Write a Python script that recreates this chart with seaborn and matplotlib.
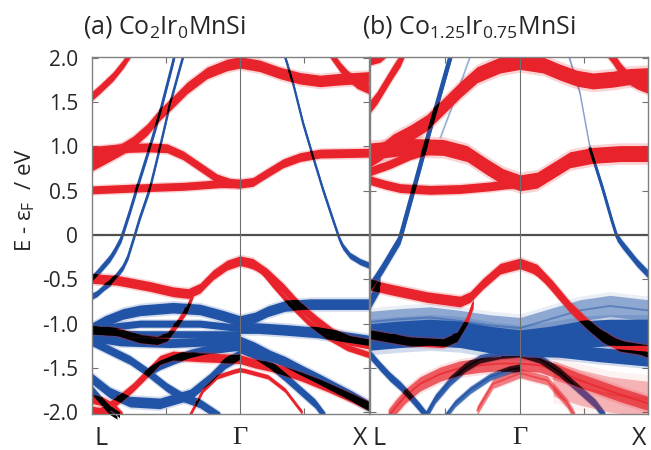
import numpy as np
import matplotlib
matplotlib.use("Agg")
import matplotlib.pyplot as plt
import matplotlib.transforms as mtransforms
import seaborn as sns

# Bloch spectral bands along L - Gamma - X.  k is the path position in
# percent of the L->X segment, E is energy relative to E_F in eV.

# ---------------- (a) Co2Ir0MnSi : majority (red) ----------------
A_R1 = ([0, 2.9, 7.6, 11.2, 14.8, 19.1], [1.57, 1.65, 1.79, 1.93, 2.10, 2.30])
A_R2 = ([0, 5.4, 10.1, 14.8, 19.9, 24.5, 29.2, 34.3, 41.5, 48.7, 53.4, 60.6, 67.9, 75.1, 82.3, 89.5, 100],
        [0.79, 0.88, 0.96, 1.05, 1.19, 1.36, 1.50, 1.66, 1.83, 1.92, 1.95, 1.91, 1.83, 1.77, 1.74, 1.76, 1.78])
A_R3 = ([85.2, 87.0, 89.5, 92.1, 95.7, 100], [2.09, 2.01, 1.90, 1.81, 1.71, 1.65])
A_R4 = ([0, 10.1, 19.9, 27.1, 32.9, 39.0, 45.1, 49.8, 53.4, 58.1, 63.2, 69.0, 75.1, 82.3, 100],
        [0.95, 0.98, 0.99, 0.98, 0.90, 0.77, 0.64, 0.59, 0.58, 0.60, 0.70, 0.81, 0.88, 0.92, 0.93])
A_R5 = ([0, 14.8, 32.9, 46.2, 53.4], [0.51, 0.53, 0.55, 0.58, 0.58])
A_R6 = ([0, 5.4, 10.1], [0.88, 0.94, 0.98])
A_R7 = ([0, 9.0, 20.9, 29.2, 34.7, 39.0, 43.7, 48.7, 53.4, 58.1, 63.2, 69.0, 75.1, 81.2, 87.0, 93.1, 100],
        [-0.49, -0.51, -0.58, -0.64, -0.66, -0.60, -0.45, -0.34, -0.29, -0.32, -0.43, -0.60, -0.81, -0.97, -1.11, -1.19, -1.23])
A_R8 = ([53.4, 60.6, 65.3, 71.5, 77.6, 84.8, 92.1, 100], [-0.29, -0.38, -0.56, -0.78, -0.97, -1.14, -1.27, -1.35])
A_R9 = ([0, 9.0, 17.3, 23.5, 27.1, 30.7, 34.3, 36.5], [-1.07, -1.09, -1.17, -1.19, -1.15, -1.0, -0.83, -0.66])
A_R10 = ([0.4, 4.0, 9.4, 14.8, 20.2, 24.5, 29.2, 39.0, 47.3, 53.4, 58.8, 66.1, 75.8, 85.2, 93.9, 100],
         [-2.03, -1.98, -1.86, -1.72, -1.55, -1.41, -1.36, -1.38, -1.39, -1.40, -1.45, -1.50, -1.60, -1.72, -1.84, -1.93])
A_R11 = ([35.4, 40.1, 45.1, 50.9, 53.4, 55.2, 63.5, 69.7, 75.8], [-2.03, -1.75, -1.60, -1.54, -1.52, -1.53, -1.60, -1.75, -2.0])
A_R12 = ([0, 4, 8, 11], [-1.85, -1.88, -1.95, -2.05])
A_R13 = ([0, 5, 9], [-1.97, -2.0, -2.08])

# ---------------- (a) Co2Ir0MnSi : minority (blue) ----------------
A_B1 = ([0, 1.8, 4.0, 6.5, 8.3, 10.5, 13.7, 16.2, 20.9, 24.5, 29.2, 30.3],
        [-0.49, -0.43, -0.35, -0.26, -0.17, -0.04, 0.27, 0.53, 1.0, 1.38, 1.95, 2.1])
A_B2 = ([0, 1.8, 4.3, 6.5, 9.0, 11.2, 13.0, 14.8, 17.3, 20.9, 24.5, 28.2, 31.8, 33.6],
        [-0.69, -0.66, -0.59, -0.54, -0.45, -0.36, -0.24, -0.06, 0.2, 0.53, 0.99, 1.49, 1.9, 2.1])
A_B3 = ([68.6, 69.7, 72.6, 76.2, 79.8, 83.4, 87.0, 89.5, 90.6, 93.1, 96.8, 100],
        [2.1, 2.01, 1.71, 1.26, 0.88, 0.51, 0.17, -0.06, -0.13, -0.23, -0.30, -0.34])
A_B4 = ([0, 4.7, 11.2, 17.3, 29.2, 39.0, 47.3, 53.4, 58.8, 63.5, 69.7, 78.7, 89.5, 100],
        [-1.05, -0.97, -0.89, -0.85, -0.82, -0.84, -0.91, -0.97, -0.93, -0.86, -0.80, -0.78, -0.78, -0.78])
A_B5 = ([0, 17.3, 39.0, 53.4], [-1.06, -1.0, -1.0, -1.05])
A_B6 = ([0, 17.3, 39.0, 53.4], [-1.10, -1.12, -1.12, -1.12])
A_B7 = ([0, 10.1, 28.2, 42.6, 53.4], [-1.15, -1.2, -1.22, -1.2, -1.2])
A_B8 = ([0, 6.5, 13.7, 20.2, 27.1, 32.9, 39.0, 46.2], [-1.2, -1.3, -1.41, -1.55, -1.72, -1.83, -1.90, -2.05])
A_B9 = ([20.2, 24.5, 30.0, 35.4, 40.8, 48.0, 53.4], [-1.55, -1.47, -1.40, -1.34, -1.30, -1.27, -1.25])
A_B10 = ([0, 6.5, 13.7, 24.5, 35.4, 42.6, 48.0, 53.4], [-1.62, -1.78, -1.88, -1.90, -1.80, -1.62, -1.45, -1.35])
A_B11 = ([0, 6.5, 10.1], [-1.75, -1.98, -2.05])
A_B12 = ([53.4, 59.9, 69.7, 81.6, 91.3, 100], [-1.05, -1.05, -1.07, -1.10, -1.15, -1.19])
A_B13 = ([53.4, 58.8, 64.3, 69.7, 75.8, 81.6, 87.7, 93.9, 100], [-1.2, -1.27, -1.36, -1.43, -1.53, -1.62, -1.72, -1.82, -1.93])
A_B14 = ([53.4, 58.8, 64.3, 69.7, 75.1, 80.5, 84.1], [-1.28, -1.35, -1.46, -1.6, -1.75, -1.9, -2.05])

# ---------------- (b) Co1.25Ir0.75MnSi : majority (red) ----------------
B_R1 = ([0, 2.5, 5.4, 8.3, 10.8, 12.6], [1.45, 1.55, 1.70, 1.85, 1.97, 2.10])
B_R1b = ([0, 3.6, 7.2], [1.97, 2.0, 2.1])
B_R2 = ([0, 3.6, 8.3, 14.4, 20.5, 26.3, 32.4, 38.5, 46.8, 54.0, 62.2, 68.3, 74.5, 80.2, 87.4, 93.5, 100],
        [0.86, 0.93, 1.05, 1.15, 1.27, 1.45, 1.64, 1.81, 1.92, 1.96, 1.92, 1.84, 1.77, 1.74, 1.76, 1.79, 1.80])
B_R3 = ([84.9, 87.4, 89.9, 92.4, 96.0, 100], [2.1, 2.0, 1.88, 1.79, 1.72, 1.67])
B_R4 = ([0, 7.2, 14.4, 26.3, 34.9, 42.1, 47.8, 54.0, 60.1, 65.8, 71.9, 80.2, 89.9, 100],
        [0.95, 0.97, 1.0, 0.99, 0.92, 0.77, 0.66, 0.59, 0.62, 0.73, 0.85, 0.90, 0.92, 0.92])
B_R5 = ([0, 5.4, 10.8, 21.6, 32.4, 43.2, 54.0], [0.62, 0.57, 0.53, 0.51, 0.52, 0.55, 0.59])
B_R6 = ([0, 7.2, 14.4, 21.6], [0.72, 0.80, 0.90, 0.97])
B_R7 = ([0, 8.3, 20.5, 32.4, 36.0, 40.6, 46.8, 54.0, 60.1, 65.8, 71.9, 78.1, 83.8, 89.9, 100],
        [-0.56, -0.62, -0.70, -0.75, -0.70, -0.55, -0.38, -0.32, -0.39, -0.58, -0.81, -1.0, -1.15, -1.25, -1.30])
B_R8 = ([57.6, 62.9, 68.3, 74.5, 80.2, 88.1, 100], [-0.36, -0.50, -0.70, -0.90, -1.05, -1.2, -1.34])
B_R9 = ([0, 14.4, 26.3, 31.3, 34.9, 37.1], [-1.12, -1.2, -1.22, -1.15, -0.96, -0.77])
B_R10 = ([6.5, 9.0, 12.6, 18.0, 25.2, 32.4, 39.6, 46.8, 54.0, 61.2, 68.3, 75.5, 82.7, 89.9, 100],
         [-2.05, -1.95, -1.82, -1.68, -1.57, -1.5, -1.47, -1.45, -1.45, -1.47, -1.55, -1.64, -1.72, -1.8, -1.9])
B_R11 = ([38.5, 44.2, 54.0, 63.7, 70.9, 73.7], [-1.98, -1.68, -1.56, -1.64, -1.9, -2.05])
B_R12 = ([65.8, 75.5, 86.3, 100], [-1.62, -1.72, -1.8, -1.85])

# ---------------- (b) Co1.25Ir0.75MnSi : minority (blue) ----------------
B_B1 = ([0, 1.8, 4.7, 8.3, 10.8, 14.4, 18.0, 21.6, 25.2, 28.8, 29.9],
        [-0.58, -0.5, -0.36, -0.17, -0.04, 0.37, 0.78, 1.2, 1.6, 2.0, 2.12])
B_B2 = ([0, 1.8, 3.6], [-0.75, -0.65, -0.55])
B_B2f = ([25.2, 30.6, 36.3], [1.1, 1.55, 2.05])
B_B3t = ([71.2, 75.5, 79.1], [2.05, 1.6, 0.98])
B_B3 = ([79.1, 83.8, 87.1, 88.8, 90.6, 92.4, 96.0, 100], [0.98, 0.51, 0.15, -0.02, -0.1, -0.17, -0.31, -0.44])
B_BC = ([0, 10.8, 21.6, 32.4, 43.2, 54.0, 64.7, 75.5, 86.3, 100],
        [-1.15, -1.12, -1.1, -1.12, -1.18, -1.22, -1.18, -1.12, -1.1, -1.1])
B_BH = ([0, 10.8, 21.6, 32.4, 43.2, 54.0, 64.7, 75.5, 86.3, 100],
        [-0.98, -0.95, -0.93, -0.97, -1.02, -1.05, -0.95, -0.85, -0.8, -0.85])
B_BL1 = ([0, 3.6, 7.2, 10.8, 14.4, 18.0, 20.5], [-1.35, -1.48, -1.6, -1.7, -1.82, -1.95, -2.05])
B_BL2 = ([19.8, 23.4, 28.8, 34.2, 39.6, 46.8, 54.0], [-2.05, -1.85, -1.65, -1.5, -1.4, -1.35, -1.33])
B_BL3 = ([27.0, 30.6, 36.0, 43.2, 50.4, 54.0], [-2.05, -1.9, -1.75, -1.6, -1.52, -1.5])
B_BR1 = ([54.0, 61.2, 68.3, 75.5, 80.9, 84.5], [-1.33, -1.4, -1.55, -1.75, -1.9, -2.05])
B_BR2 = ([54.0, 68.3, 82.7, 100], [-1.28, -1.3, -1.35, -1.4])

# Axis annotations
Y_TICKS = [2.0, 1.5, 1.0, 0.5, 0.0, -0.5, -1.0, -1.5, -2.0]
Y_TICK_LABELS = ["2.0", "1.5", "1.0", "0.5", "0", "-0.5", "-1.0", "-1.5", "-2.0"]
K_LABELS = ["L", "\u0393", "X"]
GAMMA_A = 53.4
GAMMA_B = 54.0
TITLE_A = "(a) Co$_2$Ir$_0$MnSi"
TITLE_B = "(b) Co$_{1.25}$Ir$_{0.75}$MnSi"
Y_LABEL = "E - \u03b5$_F$  / eV"

# Band groups with (half width in eV, opacity, centre line width) per band
A_RED = [A_R1, A_R2, A_R3, A_R4, A_R5, A_R6, A_R7, A_R8, A_R9, A_R10, A_R11, A_R12, A_R13]
A_RED_STYLE = [(0.05, 1, 1.4), (0.065, 1, 1.4), (0.055, 1, 1.4), (0.05, 1, 1.4), (0.045, 1, 1.4),
               (0.045, 1, 1.4), (0.055, 1, 1.4), (0.035, 1, 1.4), (0.045, 1, 1.4), (0.05, 1, 1.4),
               (0.025, 1, 1.4), (0.05, 1, 1.4), (0.04, 1, 1.4)]
A_BLUE = [A_B1, A_B2, A_B3, A_B4, A_B5, A_B6, A_B7, A_B8, A_B9, A_B10, A_B11, A_B12, A_B13, A_B14]
A_BLUE_STYLE = [(0.04, 1, 1.8), (0.035, 1, 1.5), (0.035, 1, 1.5), (0.06, 1, 1.4), (0.04, 1, 1.4),
                (0.04, 1, 1.4), (0.05, 1, 1.4), (0.05, 1, 1.4), (0.05, 1, 1.4), (0.06, 1, 1.4),
                (0.05, 1, 1.4), (0.06, 1, 1.4), (0.06, 1, 1.4), (0.05, 1, 1.4)]
B_RED = [B_R1, B_R1b, B_R2, B_R3, B_R4, B_R5, B_R6, B_R7, B_R8, B_R9, B_R10, B_R11, B_R12]
B_RED_STYLE = [(0.07, 1, 1.4), (0.05, 1, 1.4), (0.09, 1, 1.4), (0.07, 1, 1.4), (0.09, 1, 1.4),
               (0.05, 1, 1.4), (0.05, 1, 1.4), (0.06, 1, 1.4), (0.04, 1, 1.4), (0.05, 1, 1.4),
               (0.08, 0.7, 1.4), (0.05, 0.55, 1.4), (0.2, 0.3, 1.4)]
B_BLUE = [B_B1, B_B2, B_B2f, B_B3t, B_B3, B_BC, B_BH, B_BL1, B_BL2, B_BL3, B_BR1, B_BR2]
B_BLUE_STYLE = [(0.06, 1, 3.2), (0.08, 1, 1.4), (0.02, 0.3, 1.0), (0.03, 0.35, 1.0), (0.045, 1, 2.0),
                (0.15, 1, 1.4), (0.12, 0.45, 1.4), (0.05, 1, 1.4), (0.05, 0.9, 1.4), (0.04, 0.8, 1.4),
                (0.05, 1, 1.4), (0.08, 1, 1.4)]

RED = "#e8232b"
BLUE = "#2153a6"

sns.set_style("ticks")
plt.rcParams["font.family"] = ["Open Sans", "DejaVu Sans"]
plt.rcParams["mathtext.fontset"] = "custom"
plt.rcParams["mathtext.rm"] = "Open Sans"
plt.rcParams["mathtext.it"] = "Open Sans:italic"
plt.rcParams["mathtext.default"] = "regular"

fig = plt.figure(figsize=(6.51, 4.5), dpi=100)
ax_a = fig.add_axes([0.1413, 0.08, 0.4255, 0.7933])
ax_b = fig.add_axes([0.5684, 0.08, 0.4270, 0.7933])


def draw_band(ax, band, color, style, z):
    k = np.asarray(band[0], float)
    e = np.asarray(band[1], float)
    hw, a, lw = style
    ax.fill_between(k, e - hw * 1.35, e + hw * 1.35, color=color, alpha=0.2 * a, lw=0, zorder=z)
    poly = ax.fill_between(k, e - hw, e + hw, color=color, alpha=a, lw=0, zorder=z)
    sns.lineplot(x=k, y=e, color=color, lw=lw, alpha=a, ax=ax, legend=False, zorder=z)
    return k, e, hw, a, lw, poly


def draw_panel(ax, reds, red_styles, blues, blue_styles):
    blue_items = [draw_band(ax, b, BLUE, s, 2) for b, s in zip(blues, blue_styles)]
    red_items = [draw_band(ax, r, RED, s, 3) for r, s in zip(reds, red_styles)]
    # where both spin channels overlap the spectral weight shows up black
    for kr, er, hwr, ar, lwr, rpoly in red_items:
        rpath = rpoly.get_paths()[0]
        for kb, eb, hwb, ab, lwb, bpoly in blue_items:
            a = min(ar, ab)
            if a < 0.5:
                continue
            bpath = bpoly.get_paths()[0]
            blk = ax.fill_between(kr, er - hwr, er + hwr, color="black", alpha=a, lw=0, zorder=4)
            blk.set_clip_path(bpath, ax.transData)
            ln, = ax.plot(kb, eb, color="black", lw=lwb, alpha=a, zorder=4)
            ln.set_clip_path(rpath, ax.transData)


draw_panel(ax_a, A_RED, A_RED_STYLE, A_BLUE, A_BLUE_STYLE)
draw_panel(ax_b, B_RED, B_RED_STYLE, B_BLUE, B_BLUE_STYLE)

for ax, g in ((ax_a, GAMMA_A), (ax_b, GAMMA_B)):
    ax.set_xlim(0, 100)
    ax.set_ylim(-2.02, 2.01)
    ax.axhline(0, color="#505050", lw=1.6, zorder=6)
    ax.axvline(g, color="#707070", lw=0.8, zorder=6)
    ax.set_xticks([g / 2, (g + 100) / 2])
    ax.set_xticklabels([])
    ax.set_yticks(Y_TICKS)
    ax.tick_params(axis="both", direction="in", length=4, width=0.8, color="#707070",
                   top=True, bottom=True, left=True, right=True, labelsize=15, pad=10)
    for sp in ax.spines.values():
        sp.set_color("#808080")
        sp.set_linewidth(1.0)
        sp.set_zorder(7)
    ax.set_xlabel("")
    ax.set_ylabel("")
    tr = mtransforms.blended_transform_factory(ax.transData, ax.transAxes)
    ax.text(0.8, -0.068, K_LABELS[0], transform=tr, ha="left", va="center", fontsize=18)
    ax.text(g, -0.068, K_LABELS[1], transform=tr, ha="center", va="center", fontsize=19,
            family=["Liberation Serif", "DejaVu Serif"])
    ax.text(99.5, -0.068, K_LABELS[2], transform=tr, ha="right", va="center", fontsize=18)

ax_a.set_yticklabels(Y_TICK_LABELS)
ax_b.set_yticklabels([])

fig.text(83 / 651, 1 - 27 / 450, TITLE_A, fontsize=18, ha="left", va="center")
fig.text(362 / 651, 1 - 27 / 450, TITLE_B, fontsize=18, ha="left", va="center")
fig.text(25 / 651, 1 - 200 / 450, Y_LABEL, fontsize=16, rotation=90, ha="center", va="center")

fig.savefig("out.png", dpi=100)
